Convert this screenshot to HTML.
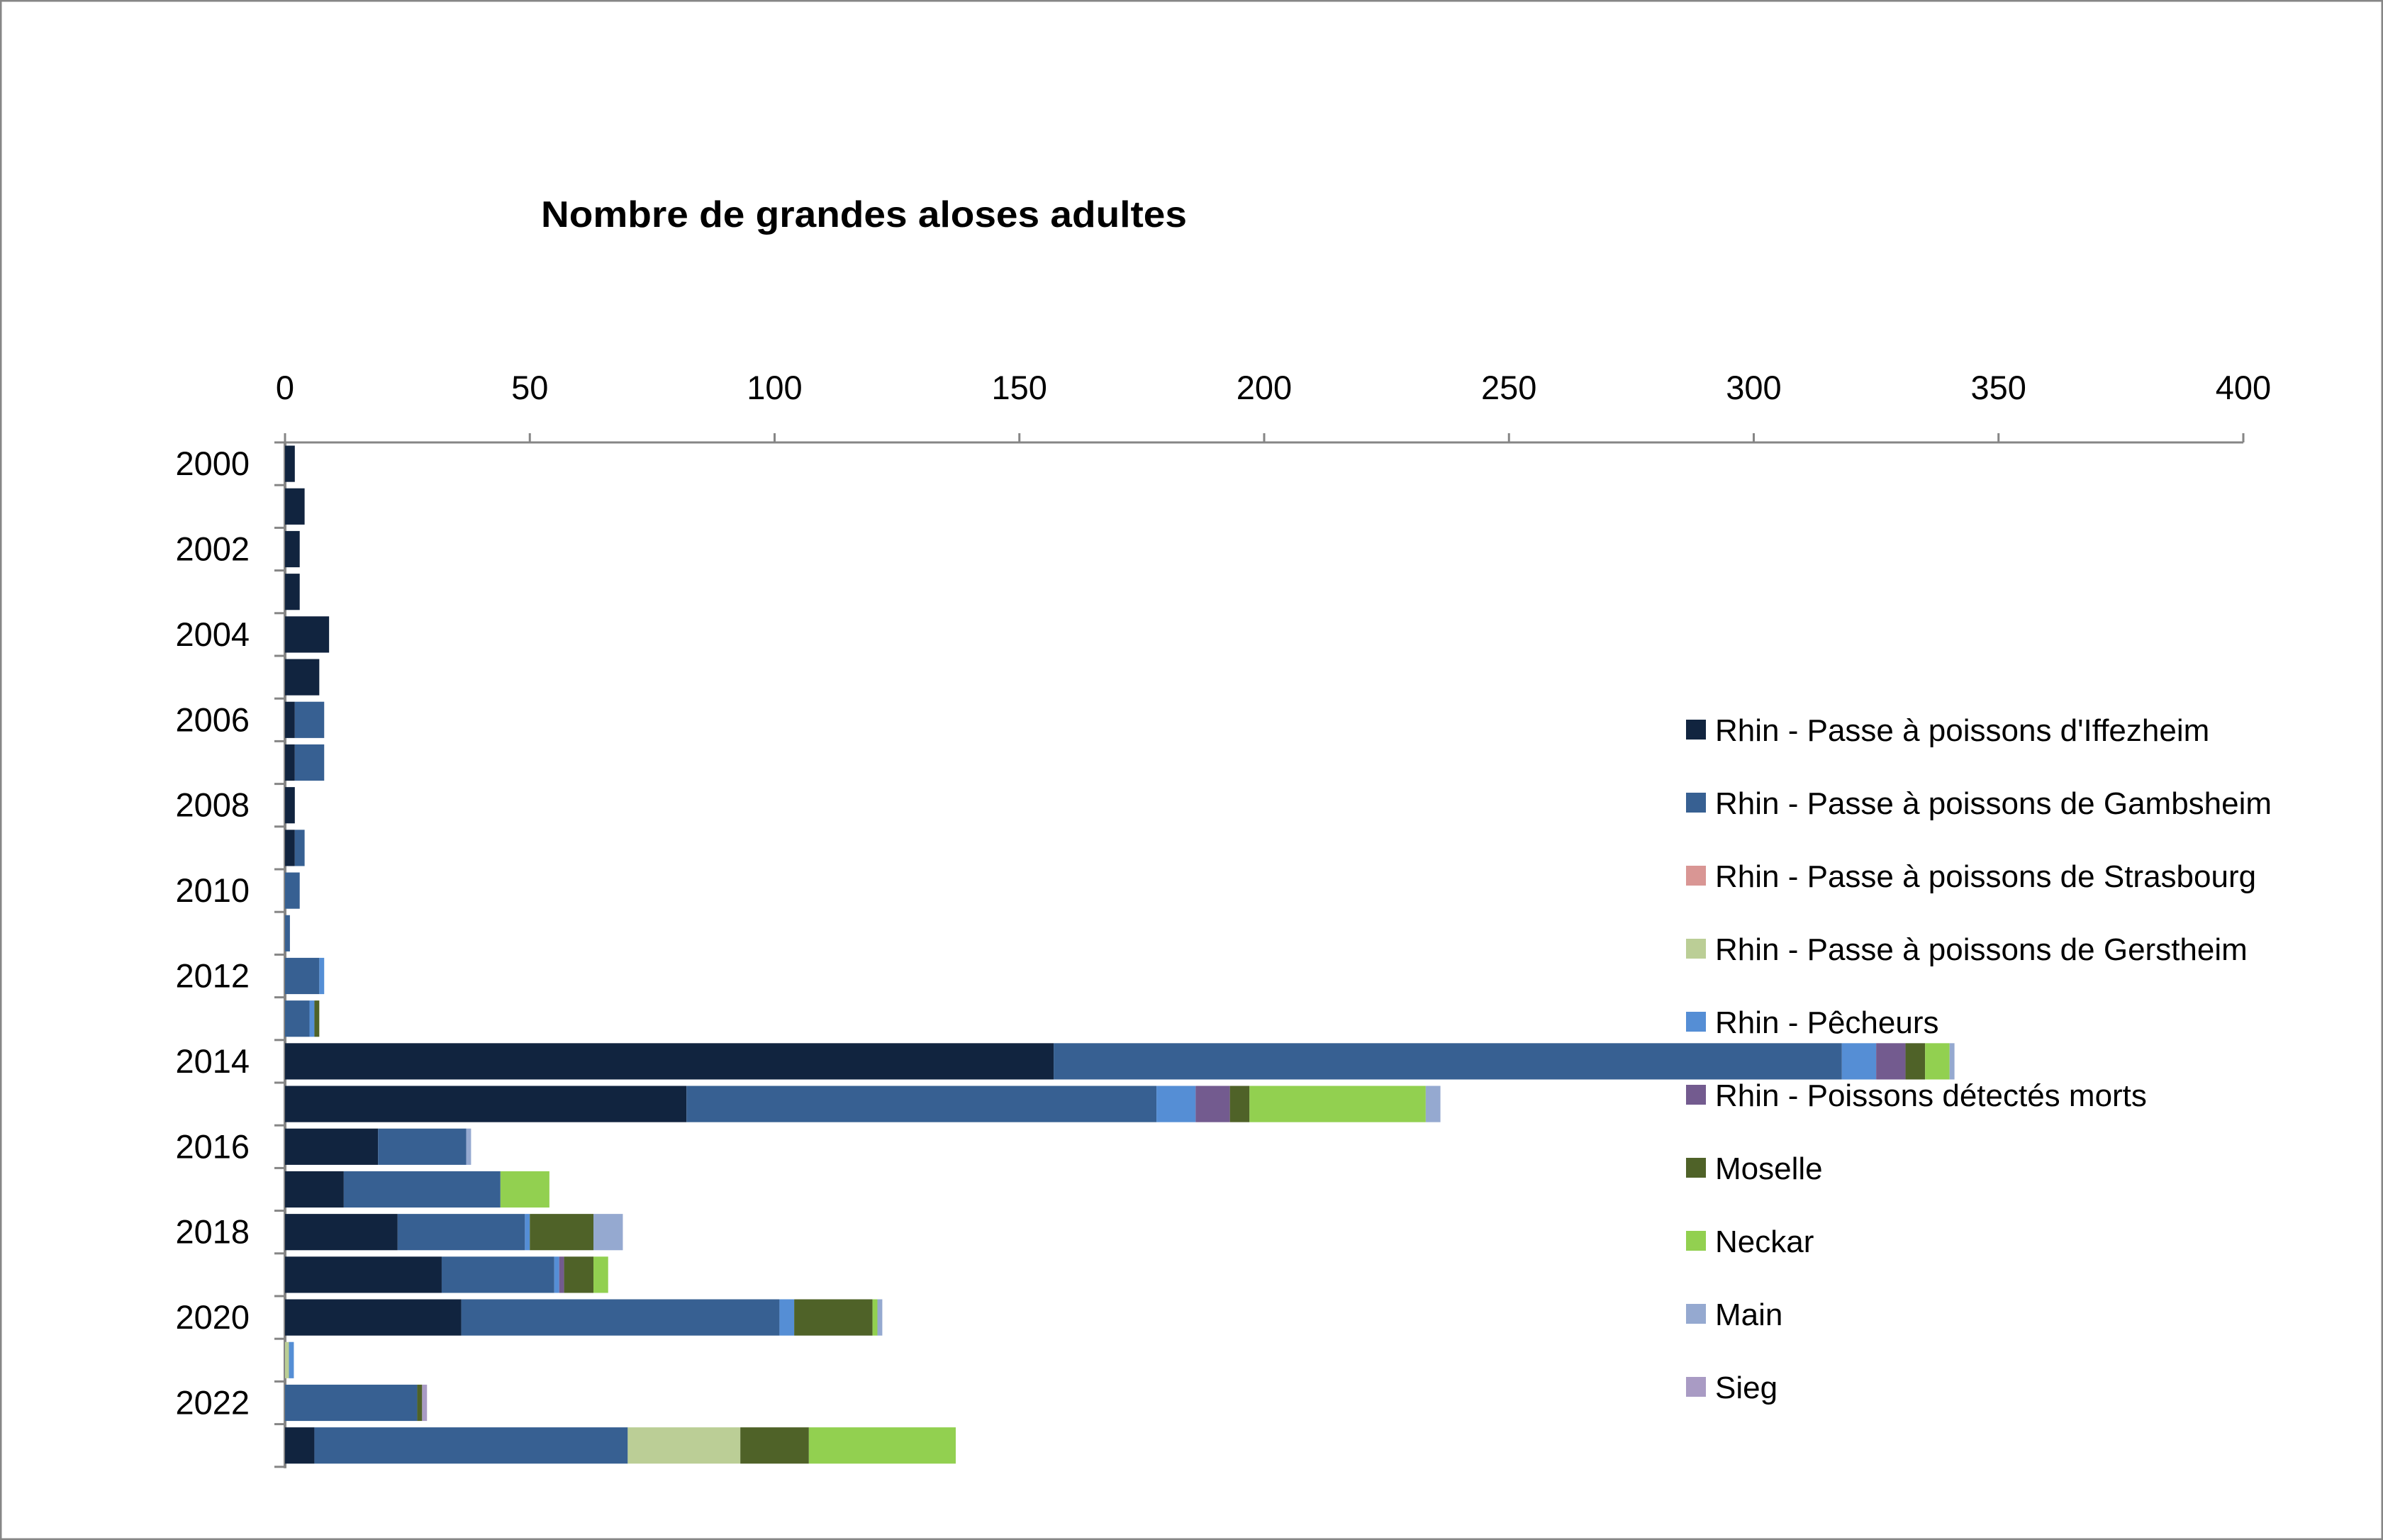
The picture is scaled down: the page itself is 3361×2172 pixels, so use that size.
<!DOCTYPE html>
<html><head><meta charset="utf-8"><style>
html,body{margin:0;padding:0;background:#fff}
svg{display:block;font-family:"Liberation Sans",sans-serif}
</style></head><body>
<svg id="chart" width="3361" height="2172" viewBox="0 0 3361 2172" xmlns="http://www.w3.org/2000/svg">
<rect x="1" y="1" width="3359" height="2170" fill="#fff" stroke="#868686" stroke-width="3"/>
<text x="763" y="320" font-size="52" font-weight="bold" fill="#000" textLength="911" lengthAdjust="spacingAndGlyphs">Nombre de grandes aloses adultes</text>
<g id="legend"></g>
<g id="axes"></g>
<g id="bars"></g>
</svg>
<script>
const categories = ["2000","2001","2002","2003","2004","2005","2006","2007","2008","2009","2010","2011","2012","2013","2014","2015","2016","2017","2018","2019","2020","2021","2022","2023"];
const seriesNames = ["Rhin - Passe à poissons d'Iffezheim","Rhin - Passe à poissons de Gambsheim","Rhin - Passe à poissons de Strasbourg","Rhin - Passe à poissons de Gerstheim","Rhin - Pêcheurs","Rhin - Poissons détectés morts","Moselle","Neckar","Main","Sieg"];
const iffezheim  = [2,4,3,3,9,7,2,2,2,2,0,0,0,0,157,82,19,12,23,32,36,0,0,6];
const gambsheim  = [0,0,0,0,0,0,6,6,0,2,3,1,7,5,161,96,18,32,26,23,65,0,27,64];
const strasbourg = [0,0,0,0,0,0,0,0,0,0,0,0,0,0,0,0,0,0,0,0,0,0,0,0];
const gerstheim  = [0,0,0,0,0,0,0,0,0,0,0,0,0,0,0,0,0,0,0,0,0,0.8,0,23];
const pecheurs   = [0,0,0,0,0,0,0,0,0,0,0,0,1,1,7,8,0,0,1,1,3,1,0,0];
const morts      = [0,0,0,0,0,0,0,0,0,0,0,0,0,0,6,7,0,0,0,1,0,0,0,0];
const moselle    = [0,0,0,0,0,0,0,0,0,0,0,0,0,1,4,4,0,0,13,6,16,0,1,14];
const neckar     = [0,0,0,0,0,0,0,0,0,0,0,0,0,0,5,36,0,10,0,3,1,0,0,30];
const main       = [0,0,0,0,0,0,0,0,0,0,0,0,0,0,1,3,1,0,6,0,1,0,0,0];
const sieg       = [0,0,0,0,0,0,0,0,0,0,0,0,0,0,0,0,0,0,0,0,0,0,1,0];
const xTicks = [0,50,100,150,200,250,300,350,400];
const yLabels = ["2000","2002","2004","2006","2008","2010","2012","2014","2016","2018","2020","2022"];

const series = [iffezheim,gambsheim,strasbourg,gerstheim,pecheurs,morts,moselle,neckar,main,sieg];
const colors = ["#11243f","#376092","#d99694","#bbce96","#558ed5","#735b8f","#4f6228","#92d050","#95a9d0","#a99bc4"];
const seriesKeys = ["iffezheim","gambsheim","strasbourg","gerstheim","pecheurs","morts","moselle","neckar","main","sieg"];
const NS="http://www.w3.org/2000/svg";
const X0=402, X1=3164, XMAX=400, YTOP=624, BAND=60.2;
function xs(v){return X0+(v/XMAX)*(X1-X0);}
function yb(i){return YTOP+i*BAND;}
function mk(tag,attrs,parent){const e=document.createElementNS(NS,tag);for(const k in attrs)e.setAttribute(k,attrs[k]);parent.appendChild(e);return e;}

const legend=document.getElementById('legend');
seriesNames.forEach((n,i)=>{
  const y=1029+i*103;
  const g=mk('g',{},legend);
  
  
  const r=mk('rect',{x:2378,y:y-14,width:28,height:28,fill:colors[i]},g);
  
  
  const t=mk('text',{x:2419,y:y+16,'font-size':44,fill:'#000'},g);
  
  
  t.textContent=n;
});

const axes=document.getElementById('axes');
const nBands=categories.length, YBOT=yb(nBands);
const xa=mk('line',{x1:X0,y1:YTOP,x2:X1,y2:YTOP,stroke:'#868686','stroke-width':3},axes);


const ya=mk('line',{x1:X0,y1:YTOP,x2:X0,y2:YBOT+2,stroke:'#868686','stroke-width':4},axes);


xTicks.forEach(v=>{
  const tk=mk('line',{x1:xs(v),y1:YTOP-13,x2:xs(v),y2:YTOP,stroke:'#868686','stroke-width':3},axes);
  
  
  const t=mk('text',{x:xs(v),y:563,'font-size':47,'text-anchor':'middle',fill:'#000'},axes);
  
  
  t.textContent=String(v);
});
for(let i=0;i<=nBands;i++){
  const tk=mk('line',{x1:X0-15,y1:yb(i),x2:X0,y2:yb(i),stroke:'#868686','stroke-width':3},axes);
  
  
}
yLabels.forEach(lab=>{
  const i=categories.indexOf(lab);
  const t=mk('text',{x:352,y:yb(i)+BAND/2+16,'font-size':47,'text-anchor':'end',fill:'#000'},axes);
  
  
  t.textContent=lab;
});

const bars=document.getElementById('bars');
categories.forEach((c,i)=>{
  let acc=0;
  const y=yb(i)+BAND*0.075, h=BAND*0.85;
  series.forEach((s,k)=>{
    const v=s[i];
    if(v>0){
      const r=mk('rect',{x:xs(acc),y:y,width:xs(acc+v)-xs(acc),height:h,fill:colors[k]},bars);
      
      
    }
    acc+=v;
  });
});
</script>
</body></html>
